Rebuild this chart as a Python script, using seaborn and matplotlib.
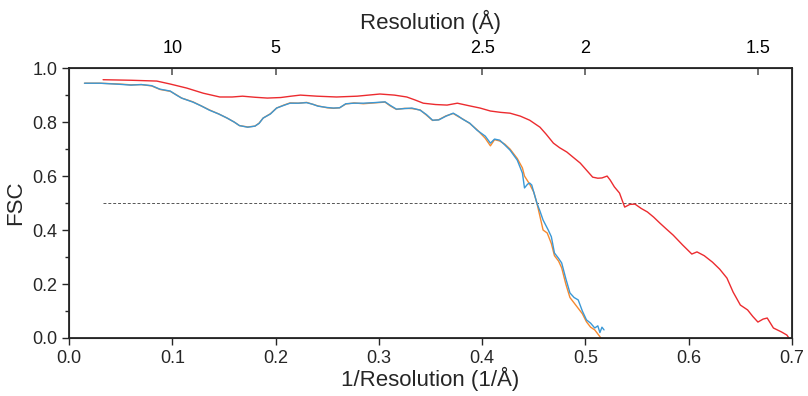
import matplotlib
matplotlib.use("Agg")
import matplotlib.pyplot as plt
import seaborn as sns
import pandas as pd

# ── data ────────────────────────────────────────────────────
blue_x = [0.015, 0.030, 0.049, 0.060, 0.070, 0.080, 0.088, 0.098, 0.104, 0.109,
          0.120, 0.128, 0.136, 0.145, 0.153, 0.160, 0.165, 0.173, 0.180, 0.184,
          0.188, 0.195, 0.201, 0.208, 0.214, 0.222, 0.230, 0.236, 0.241, 0.250,
          0.256, 0.262, 0.268, 0.276, 0.285, 0.295, 0.306, 0.311, 0.317, 0.325,
          0.332, 0.340, 0.346, 0.352, 0.358, 0.365, 0.372, 0.377, 0.381, 0.388,
          0.395, 0.403, 0.408, 0.412, 0.417, 0.422, 0.427, 0.434, 0.439, 0.441,
          0.444, 0.446, 0.448, 0.453, 0.456, 0.459, 0.464, 0.467, 0.470, 0.474,
          0.477, 0.481, 0.485, 0.489, 0.493, 0.497, 0.501, 0.505, 0.509, 0.512,
          0.514, 0.516, 0.518]
blue_y = [0.944, 0.944, 0.940, 0.937, 0.939, 0.935, 0.922, 0.915, 0.900, 0.889,
          0.874, 0.860, 0.844, 0.830, 0.815, 0.800, 0.787, 0.781, 0.785, 0.795,
          0.815, 0.830, 0.852, 0.862, 0.870, 0.870, 0.872, 0.866, 0.859, 0.854,
          0.852, 0.853, 0.868, 0.870, 0.870, 0.872, 0.875, 0.862, 0.848, 0.850,
          0.852, 0.844, 0.828, 0.807, 0.808, 0.822, 0.833, 0.822, 0.811, 0.796,
          0.770, 0.748, 0.722, 0.737, 0.733, 0.715, 0.696, 0.659, 0.611, 0.556,
          0.570, 0.574, 0.567, 0.500, 0.470, 0.437, 0.400, 0.375, 0.315, 0.295,
          0.278, 0.220, 0.167, 0.150, 0.141, 0.100, 0.067, 0.055, 0.037, 0.045,
          0.020, 0.040, 0.030]

orange_x = [0.015, 0.030, 0.049, 0.060, 0.070, 0.080, 0.088, 0.098, 0.104, 0.109,
            0.120, 0.128, 0.136, 0.145, 0.153, 0.160, 0.165, 0.173, 0.180, 0.184,
            0.188, 0.195, 0.201, 0.208, 0.214, 0.222, 0.230, 0.236, 0.241, 0.250,
            0.256, 0.262, 0.268, 0.276, 0.285, 0.295, 0.306, 0.311, 0.317, 0.325,
            0.332, 0.340, 0.346, 0.352, 0.358, 0.365, 0.372, 0.377, 0.381, 0.388,
            0.395, 0.403, 0.408, 0.412, 0.417, 0.422, 0.427, 0.434, 0.439, 0.441,
            0.446, 0.450, 0.453, 0.456, 0.459, 0.463, 0.467, 0.470, 0.474, 0.477,
            0.481, 0.485, 0.489, 0.493, 0.497, 0.501, 0.505, 0.509, 0.512, 0.515]
orange_y = [0.944, 0.944, 0.941, 0.938, 0.939, 0.934, 0.921, 0.914, 0.901, 0.889,
            0.875, 0.860, 0.845, 0.830, 0.815, 0.800, 0.787, 0.782, 0.785, 0.796,
            0.815, 0.831, 0.852, 0.863, 0.871, 0.870, 0.873, 0.866, 0.860, 0.853,
            0.851, 0.853, 0.867, 0.871, 0.868, 0.871, 0.874, 0.860, 0.847, 0.851,
            0.850, 0.845, 0.826, 0.806, 0.809, 0.823, 0.832, 0.820, 0.812, 0.795,
            0.772, 0.740, 0.712, 0.735, 0.730, 0.718, 0.700, 0.665, 0.630, 0.600,
            0.570, 0.540, 0.500, 0.450, 0.400, 0.389, 0.350, 0.305, 0.285, 0.260,
            0.200, 0.150, 0.130, 0.110, 0.090, 0.060, 0.040, 0.030, 0.015, 0.000]

red_x = [0.033, 0.060, 0.085, 0.098, 0.114, 0.130, 0.146, 0.158, 0.168, 0.180,
         0.192, 0.205, 0.215, 0.224, 0.240, 0.259, 0.279, 0.301, 0.315, 0.327,
         0.335, 0.343, 0.355, 0.366, 0.376, 0.388, 0.398, 0.408, 0.418, 0.427,
         0.437, 0.446, 0.456, 0.462, 0.469, 0.475, 0.482, 0.488, 0.495, 0.501,
         0.507, 0.512, 0.516, 0.521, 0.524, 0.528, 0.533, 0.538, 0.543, 0.548,
         0.554, 0.560, 0.566, 0.572, 0.578, 0.585, 0.594, 0.603, 0.608, 0.615,
         0.623, 0.630, 0.637, 0.643, 0.650, 0.657, 0.662, 0.667, 0.672, 0.676,
         0.682, 0.690, 0.695, 0.697]
red_y = [0.957, 0.955, 0.952, 0.941, 0.926, 0.907, 0.893, 0.893, 0.896, 0.892,
         0.889, 0.891, 0.896, 0.900, 0.896, 0.893, 0.896, 0.904, 0.900, 0.893,
         0.882, 0.870, 0.865, 0.863, 0.870, 0.860, 0.852, 0.841, 0.836, 0.833,
         0.822, 0.807, 0.781, 0.755, 0.722, 0.705, 0.689, 0.670, 0.648, 0.622,
         0.596, 0.592, 0.593, 0.600, 0.585, 0.560, 0.537, 0.485, 0.495, 0.496,
         0.480, 0.467, 0.448, 0.426, 0.405, 0.381, 0.345, 0.311, 0.319, 0.305,
         0.281, 0.255, 0.222, 0.170, 0.122, 0.104, 0.080, 0.059, 0.070, 0.074,
         0.037, 0.022, 0.011, 0.000]

top_res = [10, 5, 2.5, 2, 1.5]
top_labels = ["10", "5", "2.5", "2", "1.5"]

sns.set_style("ticks")
plt.rcParams["font.family"] = ["Liberation Sans", "DejaVu Sans"]

fig = plt.figure(figsize=(8.08, 3.96), dpi=100)
ax = fig.add_axes([0.0854, 0.1465, 0.8948, 0.6815])

ax.axhline(0.5, xmin=0.033 / 0.7, xmax=1.0, color="#555555", lw=0.7, ls=(0, (3, 2)))
sns.lineplot(x=red_x, y=red_y, ax=ax, color="#EC2B2F", lw=1.0, sort=False, estimator=None)
sns.lineplot(x=orange_x, y=orange_y, ax=ax, color="#F5892F", lw=1.0, sort=False, estimator=None)
sns.lineplot(x=blue_x, y=blue_y, ax=ax, color="#3A98D6", lw=1.0, sort=False, estimator=None)

ax.set_xlim(0, 0.7)
ax.set_ylim(0, 1.0)
ax.set_xticks([0.0, 0.1, 0.2, 0.3, 0.4, 0.5, 0.6, 0.7])
ax.set_yticks([0.0, 0.2, 0.4, 0.6, 0.8, 1.0])
ax.set_yticks([0.1, 0.3, 0.5, 0.7, 0.9], minor=True)
ax.tick_params(axis="both", which="major", labelsize=13, direction="out", length=5, width=1.0)
ax.tick_params(axis="y", which="minor", direction="out", length=3, width=1.0)
ax.set_xlabel("1/Resolution (1/Å)", fontsize=16, labelpad=0)
ax.set_ylabel("FSC", fontsize=16, labelpad=4)
for s in ax.spines.values():
    s.set_linewidth(1.3)
    s.set_visible(True)

# top axis in Angstrom
top = ax.twiny()
top.set_xlim(ax.get_xlim())
top.set_xticks([1.0 / r for r in top_res])
top.set_xticklabels(top_labels)
top.tick_params(axis="x", direction="in", length=5, width=1.3, colors="#666666",
                labelcolor="black", labelsize=13, pad=8)
top.set_xlabel("Resolution (Å)", fontsize=16, labelpad=8)

fig.savefig("out.png", dpi=100)
